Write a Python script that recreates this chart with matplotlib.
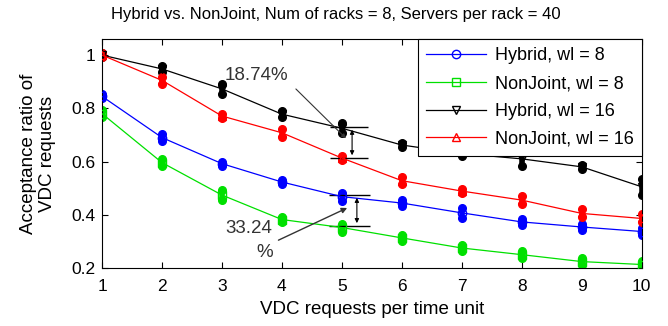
import matplotlib.pyplot as plt
import numpy as np

plt.rcParams['font.family'] = ['Liberation Sans', 'DejaVu Sans']

x = [1, 2, 3, 4, 5, 6, 7, 8, 9, 10]
hybrid8 = [0.845, 0.69, 0.592, 0.523, 0.468, 0.444, 0.407, 0.373, 0.354, 0.337]
nonjoint8 = [0.78, 0.596, 0.474, 0.382, 0.352, 0.313, 0.275, 0.25, 0.224, 0.213]
hybrid16 = [1.0, 0.948, 0.873, 0.778, 0.725, 0.662, 0.63, 0.61, 0.58, 0.505]
nonjoint16 = [1.0, 0.905, 0.771, 0.708, 0.613, 0.528, 0.489, 0.455, 0.405, 0.386]
err_h8 = [0.008, 0.012, 0.008, 0.006, 0.015, 0.01, 0.02, 0.01, 0.012, 0.012]
err_n8 = [0.012, 0.014, 0.018, 0.01, 0.015, 0.01, 0.012, 0.012, 0.012, 0.014]
err_h16 = [0.006, 0.01, 0.02, 0.012, 0.018, 0.006, 0.01, 0.025, 0.008, 0.03]
err_n16 = [0.006, 0.012, 0.008, 0.014, 0.006, 0.012, 0.008, 0.016, 0.015, 0.015]

series = [
    ('Hybrid, wl = 8', hybrid8, err_h8, '#0000ff', 'o'),
    ('NonJoint, wl = 8', nonjoint8, err_n8, '#00e000', 's'),
    ('Hybrid, wl = 16', hybrid16, err_h16, '#000000', 'v'),
    ('NonJoint, wl = 16', nonjoint16, err_n16, '#ff0000', '^'),
]

fig = plt.figure(figsize=(6.68, 3.26), dpi=100)
ax = fig.add_axes([0.1527, 0.178, 0.808, 0.702])

for label, y, e, c, m in series:
    y = np.array(y)
    e = np.array(e)
    ax.plot(x, y, color=c, lw=0.9, marker=m, mfc='none', ms=6, label=label, zorder=3)
    ax.vlines(x, y - e, y + e, color=c, lw=4, zorder=2)
    ax.plot(x, y - e, 'o', color=c, ms=5.5, zorder=2)
    ax.plot(x, y + e, 'o', color=c, ms=5.5, zorder=2)

# 18.74% gap annotation
ax.hlines([0.73, 0.613], 4.8, 5.43, color='black', lw=1)
ax.annotate('', xy=(5.17, 0.613), xytext=(5.17, 0.73),
            arrowprops=dict(arrowstyle='<|-|>', color='black', lw=0.8, mutation_scale=6))
ax.annotate('', xy=(5.1, 0.68), xytext=(4.2, 0.88),
            arrowprops=dict(arrowstyle='-|>', color='#333333', lw=0.8, mutation_scale=6))
ax.text(3.58, 0.925, '18.74%', fontsize=13.5, color='#333333', ha='center', va='center')

# 33.24% gap annotation
ax.hlines([0.474, 0.358], 4.78, 5.47, color='black', lw=1)
ax.annotate('', xy=(5.25, 0.358), xytext=(5.25, 0.474),
            arrowprops=dict(arrowstyle='<|-|>', color='black', lw=0.8, mutation_scale=6))
ax.annotate('', xy=(5.13, 0.43), xytext=(3.9, 0.3),
            arrowprops=dict(arrowstyle='-|>', color='#333333', lw=1.0, mutation_scale=8))
ax.text(3.45, 0.35, '33.24', fontsize=13.5, color='#333333', ha='center', va='center')
ax.text(3.72, 0.258, '%', fontsize=13.5, color='#333333', ha='center', va='center')

ax.set_xlim(1, 10)
ax.set_ylim(0.2, 1.06)
ax.set_xticks(x)
ax.set_yticks([0.2, 0.4, 0.6, 0.8, 1.0])
ax.set_yticklabels(['0.2', '0.4', '0.6', '0.8', '1'])
ax.tick_params(direction='in', top=True, right=True, labelsize=12.5, length=4)
ax.tick_params(axis='x', pad=8)
ax.tick_params(axis='y', pad=5)
ax.set_xlabel('VDC requests per time unit', fontsize=13.5, labelpad=5)
ax.set_ylabel('Acceptance ratio of\nVDC requests', fontsize=13.5, labelpad=11, linespacing=1.15)
fig.text(336 / 668, 1 - 14 / 326, 'Hybrid vs. NonJoint, Num of racks = 8, Servers per rack = 40',
         fontsize=12, ha='center', va='center')

leg = ax.legend(loc='upper right', fontsize=13, fancybox=False, edgecolor='black',
                borderaxespad=0, handlelength=3.3, labelspacing=0.6, framealpha=1,
                borderpad=0.45, handletextpad=0.5)
leg.get_frame().set_linewidth(0.8)

fig.savefig('out.png', dpi=100)
